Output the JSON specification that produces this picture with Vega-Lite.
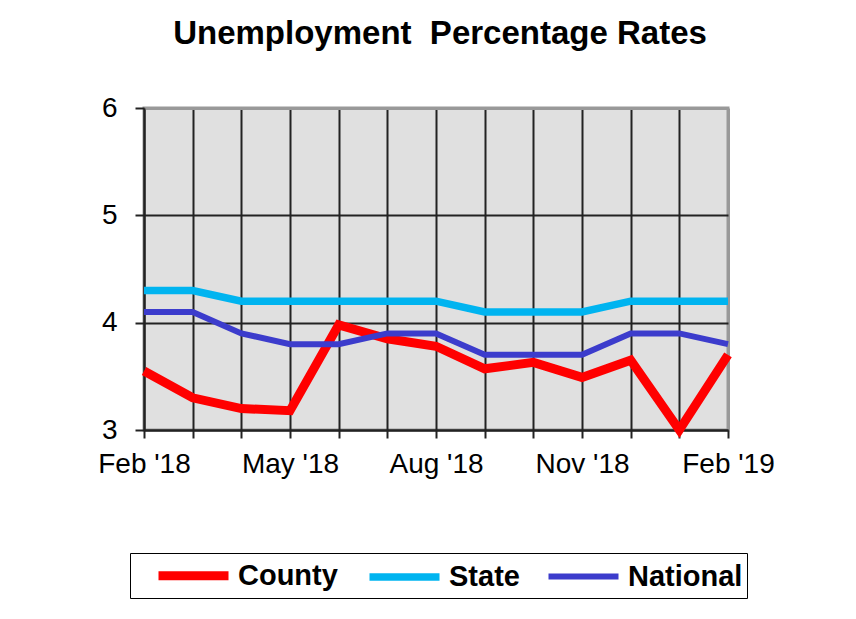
{
  "$schema": "https://vega.github.io/schema/vega-lite/v6.json",
  "width": 584,
  "height": 322,
  "autosize": "none",
  "padding": {"left": 144, "top": 108, "right": 128, "bottom": 189},
  "background": "white",
  "title": {
    "text": "Unemployment\u00a0 Percentage Rates",
    "font": "Liberation Sans",
    "fontSize": 33,
    "fontWeight": "bold",
    "color": "black",
    "anchor": "middle",
    "baseline": "alphabetic",
    "offset": 17,
    "dx": 4
  },
  "data": {
    "values": [
      {"month": "Feb '18", "series": "County", "rate": 3.55},
      {"month": "Mar '18", "series": "County", "rate": 3.3},
      {"month": "Apr '18", "series": "County", "rate": 3.2},
      {"month": "May '18", "series": "County", "rate": 3.18},
      {"month": "Jun '18", "series": "County", "rate": 3.98},
      {"month": "Jul '18", "series": "County", "rate": 3.85},
      {"month": "Aug '18", "series": "County", "rate": 3.78},
      {"month": "Sep '18", "series": "County", "rate": 3.57},
      {"month": "Oct '18", "series": "County", "rate": 3.63},
      {"month": "Nov '18", "series": "County", "rate": 3.49},
      {"month": "Dec '18", "series": "County", "rate": 3.65},
      {"month": "Jan '19", "series": "County", "rate": 3.0},
      {"month": "Feb '19", "series": "County", "rate": 3.7},
      {"month": "Feb '18", "series": "State", "rate": 4.3},
      {"month": "Mar '18", "series": "State", "rate": 4.3},
      {"month": "Apr '18", "series": "State", "rate": 4.2},
      {"month": "May '18", "series": "State", "rate": 4.2},
      {"month": "Jun '18", "series": "State", "rate": 4.2},
      {"month": "Jul '18", "series": "State", "rate": 4.2},
      {"month": "Aug '18", "series": "State", "rate": 4.2},
      {"month": "Sep '18", "series": "State", "rate": 4.1},
      {"month": "Oct '18", "series": "State", "rate": 4.1},
      {"month": "Nov '18", "series": "State", "rate": 4.1},
      {"month": "Dec '18", "series": "State", "rate": 4.2},
      {"month": "Jan '19", "series": "State", "rate": 4.2},
      {"month": "Feb '19", "series": "State", "rate": 4.2},
      {"month": "Feb '18", "series": "National", "rate": 4.1},
      {"month": "Mar '18", "series": "National", "rate": 4.1},
      {"month": "Apr '18", "series": "National", "rate": 3.9},
      {"month": "May '18", "series": "National", "rate": 3.8},
      {"month": "Jun '18", "series": "National", "rate": 3.8},
      {"month": "Jul '18", "series": "National", "rate": 3.9},
      {"month": "Aug '18", "series": "National", "rate": 3.9},
      {"month": "Sep '18", "series": "National", "rate": 3.7},
      {"month": "Oct '18", "series": "National", "rate": 3.7},
      {"month": "Nov '18", "series": "National", "rate": 3.7},
      {"month": "Dec '18", "series": "National", "rate": 3.9},
      {"month": "Jan '19", "series": "National", "rate": 3.9},
      {"month": "Feb '19", "series": "National", "rate": 3.8}
    ]
  },
  "mark": {"type": "line", "strokeCap": "butt", "strokeJoin": "miter", "clip": false},
  "encoding": {
    "x": {
      "field": "month",
      "type": "ordinal",
      "sort": ["Feb '18", "Mar '18", "Apr '18", "May '18", "Jun '18", "Jul '18", "Aug '18", "Sep '18", "Oct '18", "Nov '18", "Dec '18", "Jan '19", "Feb '19"],
      "scale": {"type": "point", "padding": 0},
      "axis": {
        "title": null,
        "labelAngle": 0,
        "labelOverlap": false,
        "labelExpr": "indexof([\"Feb '18\", \"May '18\", \"Aug '18\", \"Nov '18\", \"Feb '19\"], datum.value) >= 0 ? datum.value : ''",
        "grid": true,
        "gridColor": {"condition": {"test": "datum.value === \"Feb '19\"", "value": "#999999"}, "value": "#222222"},
        "gridWidth": {"condition": {"test": "datum.value === \"Feb '19\"", "value": 3}, "value": 2},
        "gridOpacity": 1,
        "domain": true,
        "domainColor": "#222222",
        "domainWidth": 2,
        "ticks": true,
        "tickColor": "#222222",
        "tickWidth": 2,
        "tickSize": 8,
        "labelPadding": 12,
        "labelFont": "Liberation Sans",
        "labelFontSize": 28,
        "labelColor": "black"
      }
    },
    "y": {
      "field": "rate",
      "type": "quantitative",
      "scale": {"domain": [3, 6], "nice": false, "zero": false},
      "axis": {
        "title": null,
        "values": [3, 4, 5, 6],
        "grid": true,
        "gridColor": {"condition": {"test": "datum.value === 6", "value": "#999999"}, "value": "#222222"},
        "gridWidth": {"condition": {"test": "datum.value === 6", "value": 3}, "value": 2},
        "gridOpacity": 1,
        "domain": true,
        "domainColor": "#222222",
        "domainWidth": 2,
        "ticks": true,
        "tickColor": "#222222",
        "tickWidth": 2,
        "tickSize": 9,
        "labelPadding": 18,
        "labelFont": "Liberation Sans",
        "labelFontSize": 28,
        "labelColor": "black"
      }
    },
    "color": {
      "field": "series",
      "type": "nominal",
      "scale": {"domain": ["County", "State", "National"], "range": ["#ff0000", "#00b4f0", "#3c3ccc"]},
      "legend": {
        "orient": "none",
        "legendX": -14,
        "legendY": 445,
        "direction": "horizontal",
        "columns": 3,
        "title": " ",
        "titleOrient": "left",
        "titlePadding": 24,
        "titleFontSize": 8,
        "symbolType": "M-2.5,0H2.5",
        "symbolSize": 784,
        "symbolStrokeWidth": 8,
        "symbolOffset": 17,
        "labelOffset": 26,
        "columnPadding": 16,
        "labelFont": "Liberation Sans",
        "labelFontSize": 29,
        "labelFontWeight": "bold",
        "labelColor": "black",
        "labelLimit": 300,
        "padding": 4,
        "strokeColor": "black",
        "fillColor": "white"
      }
    },
    "strokeWidth": {
      "field": "series",
      "type": "nominal",
      "scale": {"domain": ["County", "State", "National"], "range": [9, 6, 6]},
      "legend": null
    }
  },
  "config": {
    "view": {"fill": "#e0e0e0", "stroke": "#999999", "strokeWidth": 3},
    "font": "Liberation Sans"
  }
}
